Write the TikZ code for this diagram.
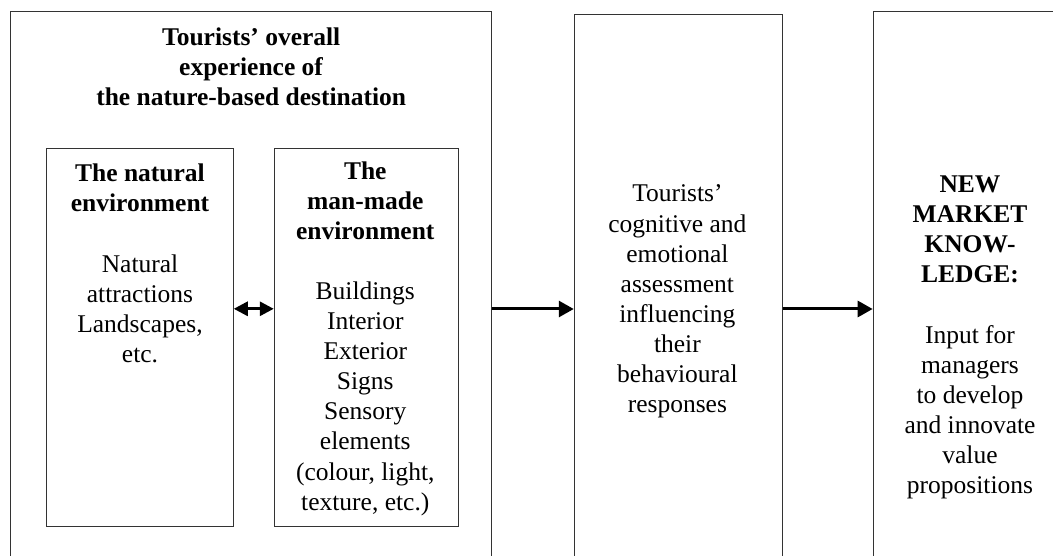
\documentclass[tikz,border=0pt]{standalone}
\usepackage{fontspec}
\setmainfont{Liberation Serif}
\usetikzlibrary{arrows.meta,positioning}
\tikzset{
block/.style = {draw=black!80, fill=white, rectangle, line width=0.9pt, inner sep=0pt},
txt/.style   = {align=center, inner sep=0pt, font=\fontsize{25.5}{30.1}\selectfont},
link/.style  = {line width=3pt, ->}
}

\begin{document}
\begin{tikzpicture}[x=1pt, y=-1pt, >={Triangle[length=15pt,width=16pt]}]
    \useasboundingbox (0,0) rectangle (1053,556);
    \clip (0,0) rectangle (1053,556);
    % boxes
    \node [block, minimum width=481pt, minimum height=594.6pt] (outer) at (251.2,309) {};
    \node [block, minimum width=208pt, minimum height=589.4pt, right=81.6pt of outer] (assess) {};
    \node [block, minimum width=197pt, minimum height=594.6pt, right=90pt of assess] (know) {};
    \node [block, minimum width=186.6pt, minimum height=377.7pt] (natural) at (140,337.8) {};
    \node [block, minimum width=184pt, minimum height=377.7pt, right=40pt of natural] (manmade) {};
    % texts
    \node [txt] (outertxt) at (251.2,67) {\textbf{Tourists’ overall}\\\textbf{experience of}\\\textbf{the nature-based destination}};
    \node [txt] (naturaltxt) at (140,263.5) {\textbf{The natural}\\\textbf{environment}\\[\baselineskip]Natural\\attractions\\Landscapes,\\etc.};
    \node [txt] (manmadetxt) at (365.3,338.5) {\textbf{The}\\\textbf{man-made}\\\textbf{environment}\\[\baselineskip]Buildings\\Interior\\Exterior\\Signs\\Sensory\\elements\\(colour, light,\\texture, etc.)};
    \node [txt] (assesstxt) at (677.4,301.5) {Tourists’\\cognitive and\\emotional\\assessment\\influencing\\their\\behavioural\\responses};
    \node [txt] (knowtxt) at (970,337.4) {\textbf{NEW}\\\textbf{MARKET}\\\textbf{KNOW-}\\\textbf{LEDGE:}\\[\baselineskip]Input for\\managers\\to develop\\and innovate\\value\\propositions};
    % arrows
    \draw [link] (outer) -- (assess);
    \draw [link] (assess) -- (know);
    \draw [line width=3pt, {Triangle[length=14pt,width=14pt]}-{Triangle[length=14pt,width=14pt]}] ([yshift=29pt]natural.east) -- ([yshift=29pt]manmade.west);
\end{tikzpicture}
\end{document}
